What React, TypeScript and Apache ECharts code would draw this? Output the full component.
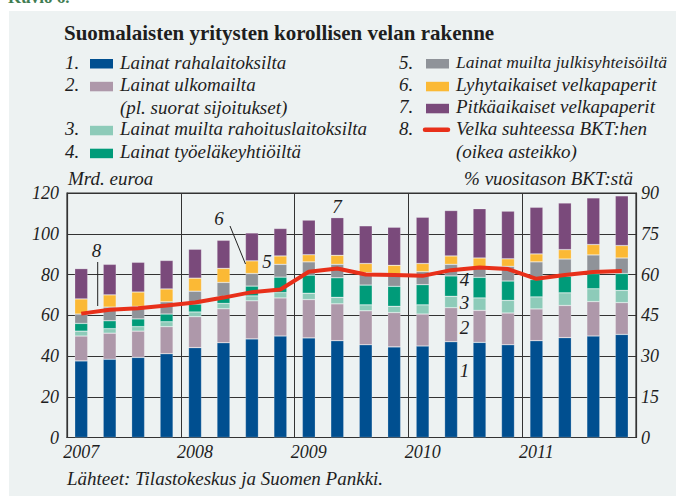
import React, { useEffect, useRef } from "react";
import * as echarts from "echarts";

const quarters = [
  "2007 Q1", "2007 Q2", "2007 Q3", "2007 Q4",
  "2008 Q1", "2008 Q2", "2008 Q3", "2008 Q4",
  "2009 Q1", "2009 Q2", "2009 Q3", "2009 Q4",
  "2010 Q1", "2010 Q2", "2010 Q3", "2010 Q4",
  "2011 Q1", "2011 Q2", "2011 Q3", "2011 Q4",
];

const rahalaitokset = [37.6, 38.4, 39.3, 41.1, 44.1, 46.5, 48.4, 49.8, 48.9, 47.5, 45.5, 44.5, 44.9, 47.0, 46.7, 45.5, 47.5, 49.0, 49.8, 50.6];
const ulkomailta = [12.2, 12.8, 12.9, 13.3, 15.2, 16.7, 18.7, 18.7, 18.8, 18.1, 16.7, 16.8, 15.7, 16.7, 15.7, 15.6, 15.6, 15.8, 16.9, 15.6];
const rahoituslaitokset = [2.4, 2.2, 2.2, 2.4, 2.3, 2.6, 2.4, 2.6, 3.1, 3.2, 2.9, 3.1, 4.5, 5.6, 6.1, 6.2, 5.9, 6.2, 6.3, 6.0];
const tyoelake = [3.8, 3.9, 3.8, 3.8, 3.9, 3.4, 4.8, 7.6, 8.9, 9.6, 9.7, 9.8, 9.9, 10.0, 10.1, 9.5, 8.5, 8.2, 7.4, 8.3];
const julkisyhteisot = [4.6, 6.7, 6.2, 6.0, 6.3, 6.9, 6.2, 6.3, 6.5, 6.6, 6.1, 5.8, 6.4, 5.7, 5.1, 7.2, 8.7, 8.4, 9.2, 7.6];
const lyhyet = [7.4, 6.0, 7.0, 6.3, 6.4, 6.9, 6.2, 4.1, 3.5, 4.4, 4.5, 4.5, 4.0, 4.1, 4.4, 3.7, 3.9, 4.6, 5.1, 6.1];
const pitkat = [14.9, 15.0, 14.6, 14.0, 14.2, 13.8, 13.7, 13.5, 17.0, 18.5, 18.5, 18.7, 22.7, 22.3, 24.2, 23.4, 22.9, 22.9, 22.9, 24.4];
const velkaBkt = [45.6, 47.0, 47.6, 48.6, 49.7, 51.5, 53.5, 54.5, 61.0, 62.2, 60.0, 59.8, 59.5, 61.6, 62.6, 62.0, 58.4, 59.8, 60.9, 61.3];

const seriesNames = [
  "Lainat rahalaitoksilta",
  "Lainat ulkomailta",
  "Lainat muilta rahoituslaitoksilta",
  "Lainat työeläkeyhtiöiltä",
  "Lainat muilta julkisyhteisöiltä",
  "Lyhytaikaiset velkapaperit",
  "Pitkäaikaiset velkapaperit",
  "Velka suhteessa BKT:hen",
];
const colors = ["#004f90", "#ae98aa", "#8dcbb9", "#009b79", "#8f9399", "#fbb935", "#7a4a7b", "#e8301a"];
const leftTicks = [0, 120, 20];
const rightTicks = [0, 90, 15];

const SERIF = '"Liberation Serif", "Times New Roman", serif';
const TXT = "#1e1e1e";

function legendItem(num: string, idx: number, x: number, y: number, sx: number, tx: number, extra?: string, size = 19) {
  const els: any[] = [
    { type: "text", style: { text: num, x, y, font: `italic 19px ${SERIF}`, fill: TXT, textVerticalAlign: "middle" } },
    { type: "text", style: { text: seriesNames[idx], x: tx, y, font: `italic ${size}px ${SERIF}`, fill: TXT, textVerticalAlign: "middle" } },
  ];
  if (idx === 7) {
    els.push({ type: "line", shape: { x1: sx + 1, y1: y + 1, x2: sx + 24, y2: y + 1 }, style: { stroke: colors[7], lineWidth: 4.5, lineCap: "round" } });
  } else {
    els.push({ type: "rect", shape: { x: sx, y: y - 3, width: 23, height: 9.5 }, style: { fill: colors[idx] } });
  }
  if (extra) {
    els.push({ type: "text", style: { text: extra, x: tx, y: y + 22.5, font: `italic 19px ${SERIF}`, fill: TXT, textVerticalAlign: "middle" } });
  }
  return els;
}

function annot(text: string, x: number, y: number) {
  return { type: "text", z: 20, style: { text, x, y, font: `italic 19px ${SERIF}`, fill: TXT, textAlign: "center", textVerticalAlign: "middle" } };
}

export default function App() {
  const ref = useRef<HTMLDivElement>(null);
  useEffect(() => {
    if (!ref.current) return;
    const chart = echarts.init(ref.current, undefined, { renderer: "svg" });
    const barData = [rahalaitokset, ulkomailta, rahoituslaitokset, tyoelake, julkisyhteisot, lyhyet, pitkat];
    const series: any[] = barData.map((d, i) => ({
      name: seriesNames[i],
      type: "bar",
      stack: "total",
      data: d,
      barWidth: 13,
      itemStyle: { color: colors[i], borderColor: "rgba(255,255,255,0.35)", borderWidth: 0.6 },
      z: 2,
    }));
    series.push({
      name: seriesNames[7],
      type: "line",
      yAxisIndex: 1,
      data: velkaBkt,
      symbol: "none",
      lineStyle: { color: colors[7], width: 4 },
      z: 10,
    });

    const axisLabelStyle = { fontFamily: SERIF, fontStyle: "italic", fontSize: 18, color: TXT };

    const graphics: any[] = [
      { type: "rect", z: -10, shape: { x: 9, y: 11, width: 667, height: 485 }, style: { fill: "#edf2f2" } },
      { type: "text", style: { text: "Kuvio 6.", x: 8, y: -11, font: `bold 17px ${SERIF}`, fill: "#3f7d52" } },
      { type: "text", style: { text: "Suomalaisten yritysten korollisen velan rakenne", x: 64, y: 33, font: `bold 21px ${SERIF}`, fill: TXT, textVerticalAlign: "middle" } },
      ...legendItem("1.", 0, 65, 62, 90, 120),
      ...legendItem("2.", 1, 65, 84.8, 90, 120, "(pl. suorat sijoitukset)"),
      ...legendItem("3.", 2, 65, 128.8, 90, 120),
      ...legendItem("4.", 3, 65, 151.7, 90, 120),
      ...legendItem("5.", 4, 399, 62, 426, 456, undefined, 17.6),
      ...legendItem("6.", 5, 399, 84.8, 426, 456),
      ...legendItem("7.", 6, 399, 106.8, 426, 456),
      ...legendItem("8.", 7, 399, 128.8, 424, 456, "(oikea asteikko)"),
      { type: "text", style: { text: "Mrd. euroa", x: 68, y: 178, font: `italic 19px ${SERIF}`, fill: TXT, textVerticalAlign: "middle" } },
      { type: "text", style: { text: "% vuositason BKT:stä", x: 633, y: 178, font: `italic 19px ${SERIF}`, fill: TXT, textAlign: "right", textVerticalAlign: "middle" } },
      { type: "text", style: { text: "Lähteet: Tilastokeskus ja Suomen Pankki.", x: 67, y: 478.5, font: `italic 19px ${SERIF}`, fill: TXT, textVerticalAlign: "middle" } },
      annot("8", 96.5, 250.5),
      { type: "line", z: 20, shape: { x1: 97.7, y1: 262, x2: 97.7, y2: 306 }, style: { stroke: "#222", lineWidth: 1 } },
      annot("6", 219, 218.5),
      { type: "line", z: 20, shape: { x1: 230, y1: 226, x2: 245.5, y2: 264 }, style: { stroke: "#222", lineWidth: 1 } },
      annot("5", 267, 261),
      annot("7", 337, 206.5),
      annot("4", 464.5, 279),
      annot("3", 464.5, 302),
      annot("2", 464.5, 327),
      annot("1", 464.5, 370),
    ];

    chart.setOption({
      animation: false,
      backgroundColor: "#ffffff",
      grid: { left: 67, right: 40, top: 193, bottom: 58.5, show: true, borderColor: "#333", borderWidth: 1.2, backgroundColor: "transparent" },
      xAxis: {
        type: "category",
        data: quarters,
        boundaryGap: true,
        axisLine: { show: true, lineStyle: { color: "#333", width: 1.2 } },
        axisTick: { show: false, interval: 3 },
        axisLabel: { ...axisLabelStyle, interval: 3, margin: 5, formatter: (v: string) => v.slice(0, 4) },
        splitLine: { show: true, interval: 3, lineStyle: { color: "#333", width: 1 } },
      },
      yAxis: [
        {
          type: "value",
          min: leftTicks[0],
          max: leftTicks[1],
          interval: leftTicks[2],
          axisLine: { show: true, lineStyle: { color: "#333", width: 1.2 } },
          axisTick: { show: false },
          axisLabel: { ...axisLabelStyle, margin: 8 },
          splitLine: { show: true, lineStyle: { color: "#333", width: 1 } },
        },
        {
          type: "value",
          position: "right",
          min: rightTicks[0],
          max: rightTicks[1],
          interval: rightTicks[2],
          axisLine: { show: true, lineStyle: { color: "#333", width: 1.2 } },
          axisTick: { show: false },
          axisLabel: { ...axisLabelStyle, margin: 5 },
          splitLine: { show: false },
        },
      ],
      series,
      graphic: { elements: graphics },
    });
    return () => chart.dispose();
  }, []);
  return <div ref={ref} style={{ position: "absolute", left: 0, top: 0, width: 676, height: 496 }} />;
}
